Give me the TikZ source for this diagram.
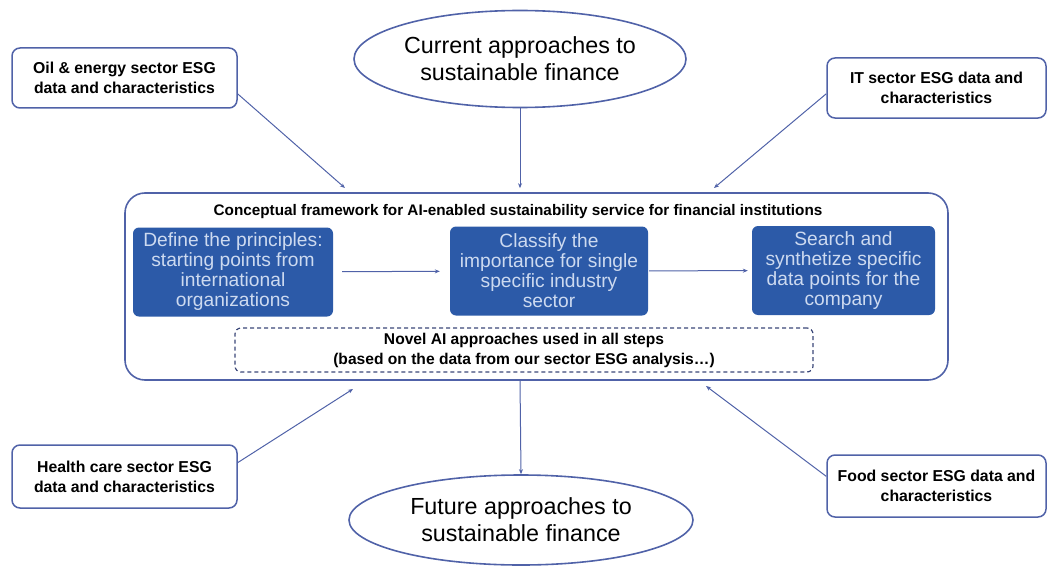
\documentclass[tikz,border=0pt]{standalone}
\usepackage{fontspec}
\setmainfont{Liberation Sans}
\usetikzlibrary{shapes.geometric,arrows.meta}
\definecolor{edgeblue}{RGB}{80,98,168}
\definecolor{stepblue}{RGB}{44,90,168}
\definecolor{steptext}{RGB}{205,218,240}
\definecolor{dashgray}{RGB}{58,70,120}

\begin{document}
\begin{tikzpicture}[x=1pt,y=-1pt,
  approach/.style={ellipse, draw=edgeblue, line width=1.6pt, inner sep=0pt, align=center, font=\fontsize{23.3}{27}\selectfont},
  sector/.style={draw=edgeblue, line width=1.5pt, rounded corners=8pt, align=center, font=\bfseries\fontsize{15.8}{20}\selectfont},
  stepbox/.style={fill=stepblue, rounded corners=6pt, text=steptext, align=center, minimum height=89pt, font=\fontsize{19.2}{20}\selectfont},
  link/.style={edgeblue, line width=1pt, -{Stealth[length=5pt,width=4pt]}}]
\useasboundingbox (0,0) rectangle (1048,567);

%ellipses
\node[approach, minimum width=332pt, minimum height=97pt] (current) at (520,59) {Current approaches to\\sustainable finance};
\node[approach, minimum width=344pt, minimum height=90pt] (future) at (521,520) {Future approaches to\\sustainable finance};

%sector boxes
\node[sector, minimum width=225pt, minimum height=60pt] (oil) at (124.5,78) {Oil \& energy sector ESG\\data and characteristics};
\node[sector, minimum width=219pt, minimum height=60pt] (it) at (936.5,88) {IT sector ESG data and\\characteristics};
\node[sector, minimum width=225pt, minimum height=63pt] (health) at (124.5,476.5) {Health care sector ESG\\data and characteristics};
\node[sector, minimum width=219pt, minimum height=62pt] (food) at (936.5,486) {Food sector ESG data and\\characteristics};

%framework
\node[draw=edgeblue, line width=1.6pt, rounded corners=20pt, minimum width=823pt, minimum height=187pt] (frame) at (536.5,286.5) {};
\node[font=\bfseries\fontsize{15.3}{18}\selectfont] (title) at (518,212) {Conceptual framework for AI-enabled sustainability service for financial institutions};
\node[stepbox, minimum width=200pt] (define) at (233,272) {Define the principles:\\starting points from\\international\\organizations};
\node[stepbox, minimum width=198pt] (classify) at (549,271) {Classify the\\importance for single\\specific industry\\sector};
\node[stepbox, minimum width=183pt] (search) at (843.5,270.5) {Search and\\synthetize specific\\data points for the\\company};
\node[draw=dashgray, line width=1.2pt, dash pattern=on 4pt off 3pt, rounded corners=6pt, minimum width=578pt, minimum height=44pt, align=center, font=\bfseries\fontsize{15.6}{20}\selectfont] (novel) at (524,350) {Novel AI approaches used in all steps\\(based on the data from our sector ESG analysis\dots)};

\draw[link, shorten <=9pt, shorten >=10pt] (define) -- (classify);
\draw[link, shorten <=1pt, shorten >=4pt] (classify) -- (search);

%inputs
\coordinate (inOil) at (345,188);
\coordinate (inIt) at (714,188);
\coordinate (inHealth) at (353,389);
\coordinate (inFood) at (706,386);
\draw[link] (oil.-8) -- (inOil);
\draw[link] (it.183) -- (inIt);
\draw[link] (health.7) -- (inHealth);
\draw[link] (food.175) -- (inFood);
\draw[link, shorten >=4pt] (current.south) -- (current.south |- frame.north);
\draw[link] (current.south |- frame.south) -- (future.north);

\end{tikzpicture}
\end{document}
